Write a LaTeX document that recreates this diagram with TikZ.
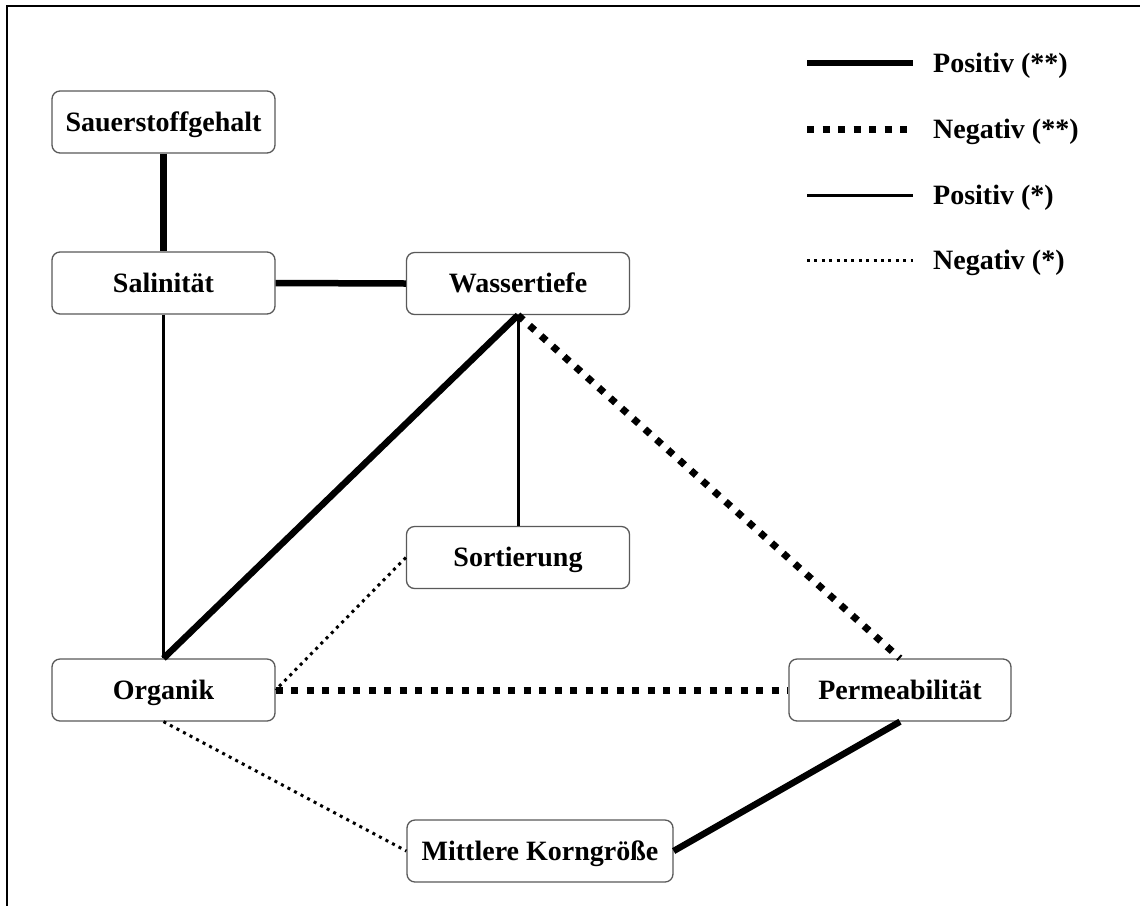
\documentclass[tikz,border=0pt]{standalone}
\usepackage{fontspec}
\setmainfont{Liberation Serif}
\begin{document}
\begin{tikzpicture}[x=1pt,y=-1pt,
  box/.style={draw=black!65, line width=1.3pt, rounded corners=8pt, fill=white,
    minimum width=223pt, minimum height=62pt, inner sep=0pt,
    text height=18.5pt, text depth=0pt,
    font=\fontsize{28}{32}\selectfont\bfseries},
  legtext/.style={anchor=west, inner sep=0pt, text height=18.5pt, text depth=0pt,
    font=\fontsize{28}{32}\selectfont\bfseries},
  posstrong/.style={line width=6.5pt},
  negstrong/.style={line width=7pt, dash pattern=on 7pt off 8.5pt},
  posweak/.style={line width=3pt},
  negweak/.style={line width=3pt, dash pattern=on 3pt off 4.4pt}]
\useasboundingbox (0,0) rectangle (1140,906);
\draw[line width=1.5pt] (1140,6) -- (7,6) -- (7,906);

\node[box] (sauer) at (163.5,122) {Sauerstoffgehalt};
\node[box] (salin) at (163.5,283) {Salinität};
\node[box] (wasser) at (518,283.5) {Wassertiefe};
\node[box] (sort) at (518,557.5) {Sortierung};
\node[box] (organik) at (163.5,690) {Organik};
\node[box, minimum width=222pt] (perm) at (900,690) {Permeabilität};
\node[box, minimum width=266pt] (mittl) at (540,851) {Mittlere Korngröße};

\draw[posstrong] (sauer.south) -- (salin.north);
\draw[posstrong] (salin.east) -- (wasser.west);
\draw[posweak] (salin.south) -- (organik.north);
\draw[posstrong] (wasser.south) -- (organik.north);
\draw[posweak] (wasser.south) -- (sort.north);
\draw[negstrong] (wasser.south) -- (perm.north);
\draw[negweak] (sort.west) -- (organik.east);
\draw[negstrong] (organik.east) -- (perm.west);
\draw[negweak] (organik.south) -- (mittl.west);
\draw[posstrong] (mittl.east) -- (perm.south);

\coordinate (l1a) at (807,63);  \coordinate (l1b) at (913,63);
\coordinate (l2a) at (807,129); \coordinate (l2b) at (913,129);
\coordinate (l3a) at (807,195); \coordinate (l3b) at (913,195);
\coordinate (l4a) at (807,260); \coordinate (l4b) at (913,260);
\draw[posstrong] (l1a) -- (l1b);
\draw[negstrong] (l2a) -- (l2b);
\draw[posweak] (l3a) -- (l3b);
\draw[negweak] (l4a) -- (l4b);
\node[legtext] (t1) at (933,63) {Positiv (**)};
\node[legtext] (t2) at (933,129) {Negativ (**)};
\node[legtext] (t3) at (933,195) {Positiv (*)};
\node[legtext] (t4) at (933,260) {Negativ (*)};
\end{tikzpicture}
\end{document}
